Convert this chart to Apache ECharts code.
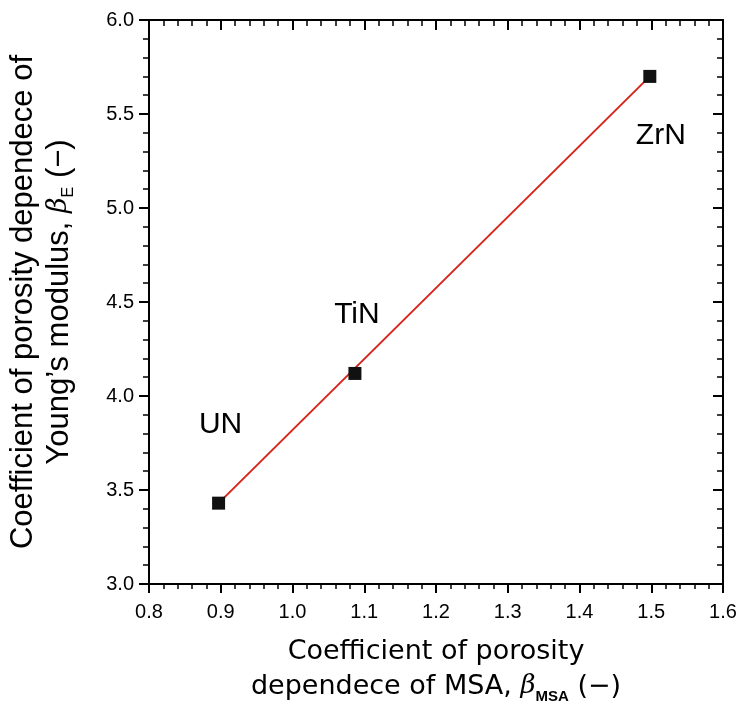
<!DOCTYPE html>
<html>
<head>
<meta charset="utf-8">
<script src="https://cdn.jsdelivr.net/npm/echarts@6/dist/echarts.min.js"></script>
<style>
html,body{margin:0;padding:0;background:#fff;}
#chart{width:740px;height:709px;}
</style>
</head>
<body>
<div id="chart"></div>
<script>
// ---- data ----
const materials = ['UN', 'TiN', 'ZrN'];
const betaMSA = [0.897, 1.087, 1.498];
const betaE = [3.43, 4.12, 5.70];
const fitX = [0.897, 1.498];
const fitY = [3.43, 5.70];

// ---- presentation ----
const labelOffsets = { UN: [2, -78], TiN: [2, -59], ZrN: [11, 59] };
const sans = 'Liberation Sans, Arial, Helvetica, sans-serif';
const wide = 'DejaVu Sans, Verdana, sans-serif';

const chart = echarts.init(document.getElementById('chart'), null, { renderer: 'canvas' });

const axisBase = {
  type: 'value',
  splitLine: { show: false },
  axisLine: { show: true, onZero: false, lineStyle: { color: '#000', width: 2 } }
};

const option = {
  backgroundColor: '#fff',
  animation: false,
  grid: { left: 149, right: 17, top: 20, bottom: 125, containLabel: false, outerBoundsMode: 'none' },
  xAxis: [
    Object.assign({}, axisBase, {
      position: 'bottom', min: 0.8, max: 1.6, interval: 0.1,
      axisTick: { show: true, inside: false, length: 9, lineStyle: { color: '#000', width: 2 } },
      minorTick: { show: true, splitNumber: 5, length: 5, lineStyle: { color: '#000', width: 1.5 } },
      axisLabel: { color: '#000', fontFamily: sans, fontSize: 20, margin: 18, formatter: v => v.toFixed(1) },
      name: '{t|Coefficient of porosity}\n{t|dependece of MSA, }{b|β}{s|MSA}{t| (−)}',
      nameLocation: 'middle',
      nameGap: 50,
      nameTextStyle: {
        color: '#000',
        rich: {
          t: { fontFamily: wide, fontSize: 27, lineHeight: 35, color: '#000' },
          b: { fontFamily: 'DejaVu Serif, serif', fontStyle: 'italic', fontSize: 26, lineHeight: 35, color: '#000' },
          s: { fontFamily: sans, fontWeight: 'bold', fontSize: 15, lineHeight: 35, verticalAlign: 'bottom', color: '#000' }
        }
      }
    }),
    Object.assign({}, axisBase, {
      position: 'top', min: 0.8, max: 1.6, interval: 0.1,
      axisTick: { show: true, inside: true, length: 10, lineStyle: { color: '#000', width: 2 } },
      minorTick: { show: true, splitNumber: 5, length: 6, lineStyle: { color: '#000', width: 1.5 } },
      axisLabel: { show: false }
    })
  ],
  yAxis: [
    Object.assign({}, axisBase, {
      position: 'left', min: 3.0, max: 6.0, interval: 0.5,
      axisTick: { show: true, inside: false, length: 10, lineStyle: { color: '#000', width: 2 } },
      minorTick: { show: true, splitNumber: 5, length: 6, lineStyle: { color: '#000', width: 1.5 } },
      axisLabel: { color: '#000', fontFamily: sans, fontSize: 20, margin: 15, formatter: v => v.toFixed(1) },
      name: '{t|Coefficient of porosity dependece of}\n{t|Young’s modulus, }{b|β}{s|E}{t| (−)}',
      nameLocation: 'middle',
      nameGap: 72,
      nameTextStyle: {
        color: '#000',
        rich: {
          t: { fontFamily: sans, fontSize: 31, lineHeight: 36, color: '#000' },
          b: { fontFamily: 'DejaVu Serif, serif', fontStyle: 'italic', fontSize: 27, lineHeight: 36, color: '#000' },
          s: { fontFamily: sans, fontSize: 16, lineHeight: 36, verticalAlign: 'bottom', color: '#000' }
        }
      }
    }),
    Object.assign({}, axisBase, {
      position: 'right', min: 3.0, max: 6.0, interval: 0.5,
      axisTick: { show: true, inside: true, length: 10, lineStyle: { color: '#000', width: 2 } },
      minorTick: { show: true, splitNumber: 5, length: 6, lineStyle: { color: '#000', width: 1.5 } },
      axisLabel: { show: false }
    })
  ],
  series: [
    {
      type: 'line',
      xAxisIndex: 0, yAxisIndex: 0,
      data: fitX.map((x, i) => [x, fitY[i]]),
      showSymbol: false,
      symbol: 'none',
      lineStyle: { color: '#d6261c', width: 2 },
      z: 3
    },
    {
      type: 'scatter',
      xAxisIndex: 0, yAxisIndex: 0,
      symbol: 'rect',
      symbolSize: 13,
      itemStyle: { color: '#111', opacity: 1 },
      data: materials.map((m, i) => ({
        name: m,
        value: [betaMSA[i], betaE[i]],
        label: { offset: labelOffsets[m] }
      })),
      label: {
        show: true,
        position: 'inside',
        formatter: '{b}',
        fontFamily: sans,
        fontSize: 30,
        color: '#000'
      },
      z: 4
    }
  ]
};
chart.setOption(option);
</script>
</body>
</html>
